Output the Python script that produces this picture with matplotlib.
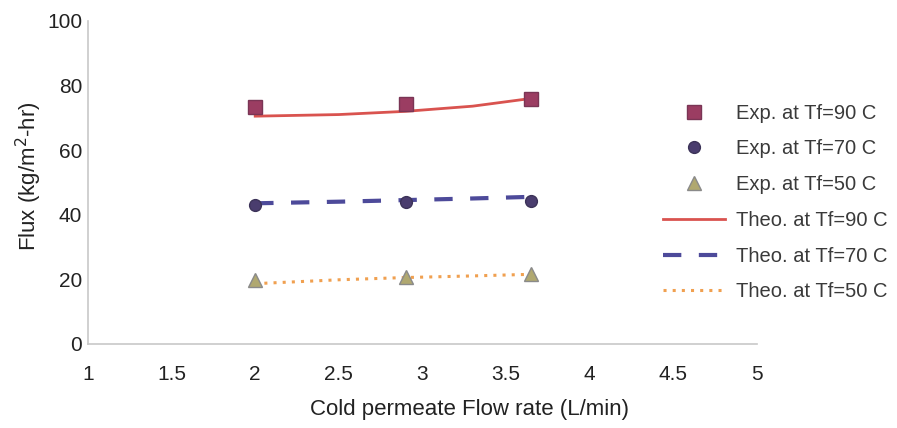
import matplotlib
matplotlib.use("Agg")
import matplotlib.pyplot as plt

plt.rcParams['font.family'] = ['Liberation Sans', 'DejaVu Sans']

flow = [2.0, 2.9, 3.65]
exp90 = [73.3, 74.2, 75.8]
exp70 = [42.9, 44.0, 44.3]
exp50 = [19.6, 20.6, 21.6]

theo_flow = [2.0, 2.5, 2.9, 3.3, 3.65]
theo90 = [70.5, 71.0, 72.0, 73.6, 76.0]
theo70 = [43.5, 44.0, 44.5, 45.0, 45.5]
theo50 = [18.6, 19.8, 20.5, 21.0, 21.5]

xticks = [1, 1.5, 2, 2.5, 3, 3.5, 4, 4.5, 5]
xticklabels = ['1', '1.5', '2', '2.5', '3', '3.5', '4', '4.5', '5']
yticks = [0, 20, 40, 60, 80, 100]

fig = plt.figure(figsize=(8.97, 4.28), dpi=100)
ax = fig.add_axes([0.098, 0.197, 0.746, 0.754])

ax.plot(flow, exp90, linestyle='none', marker='s', markersize=9.5, color='#9b3d62', markeredgecolor='#7a3555', label='Exp. at Tf=90 C', zorder=3)
ax.plot(flow, exp70, linestyle='none', marker='o', markersize=8.5, color='#4a3d6e', markeredgecolor='#3c3358', label='Exp. at Tf=70 C', zorder=3)
ax.plot(flow, exp50, linestyle='none', marker='^', markersize=10.5, color='#b0a870', markeredgecolor='#8a8a8a', label='Exp. at Tf=50 C', zorder=3)

ax.plot(theo_flow, theo90, '-', color='#d9534f', lw=2.0, label='Theo. at Tf=90 C')
ax.plot(theo_flow, theo70, color='#4d4a9a', lw=3, linestyle=(0, (4.4, 4.2)), label='Theo. at Tf=70 C')
ax.plot(theo_flow, theo50, color='#f0a050', lw=2.2, linestyle=(0, (1, 2)), label='Theo. at Tf=50 C')

ax.set_xlim(1, 5)
ax.set_ylim(0, 100)
ax.set_xticks(xticks)
ax.set_xticklabels(xticklabels)
ax.set_yticks(yticks)
ax.tick_params(length=0, labelsize=15, colors='#222222')
ax.tick_params(axis='x', pad=15)
ax.tick_params(axis='y', pad=4)
for s in ['top', 'right']:
    ax.spines[s].set_visible(False)
for s in ['left', 'bottom']:
    ax.spines[s].set_color('#c8c8c8')
    ax.spines[s].set_linewidth(1.2)

ax.set_xlabel('Cold permeate Flow rate (L/min)', fontsize=16, color='#222222')
ax.xaxis.set_label_coords(0.571, -0.172)
ax.set_ylabel('Flux (kg/m$^2$-hr)', fontsize=16, color='#222222')
ax.yaxis.set_label_coords(-0.066, 0.52)

ax.legend(loc='upper left', bbox_to_anchor=(0.719, 0.80), bbox_transform=fig.transFigure,
          frameon=False, fontsize=14.5, labelspacing=0.83, handlelength=3.1, handletextpad=0.5,
          labelcolor='#3a3a3a')

fig.savefig('out.png', dpi=100)
